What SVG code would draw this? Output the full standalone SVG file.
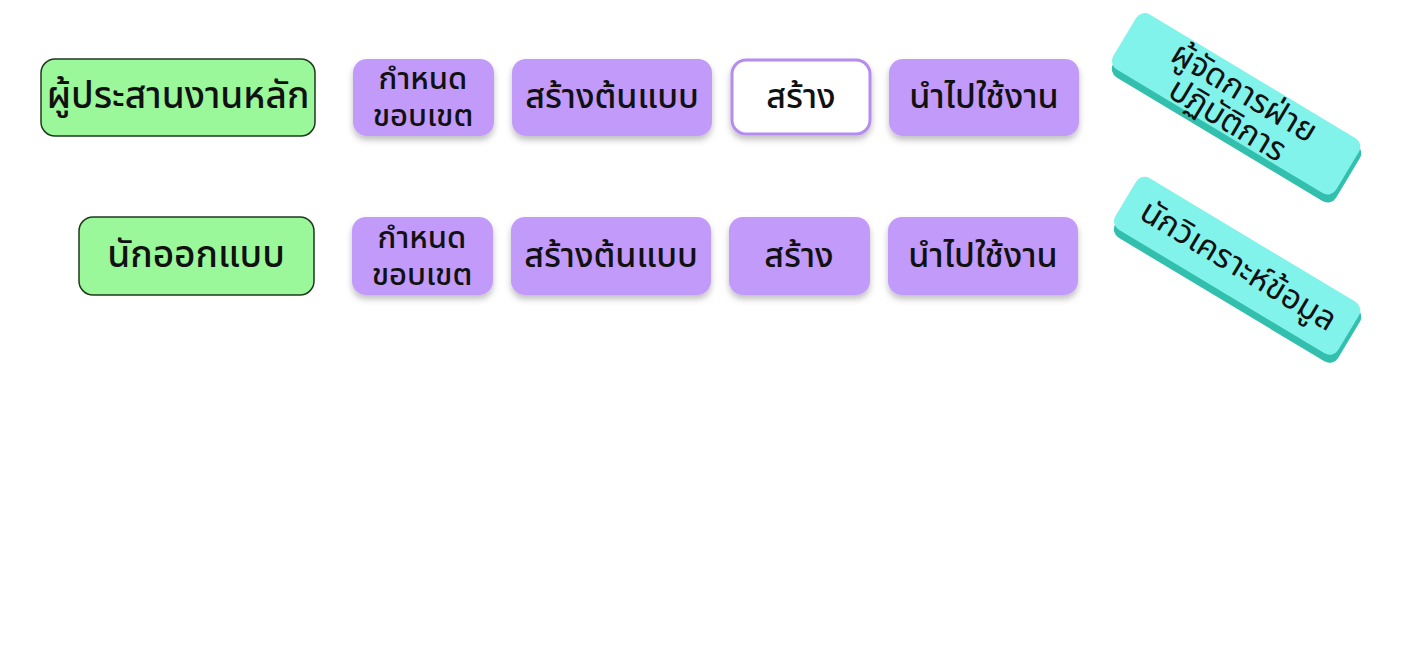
<svg xmlns="http://www.w3.org/2000/svg" width="1409" height="662" viewBox="0 0 1409 662">
<defs>
<style>
text{font-family:"Noto Sans Thai","Noto Sans","DejaVu Sans",sans-serif;fill:#111;text-anchor:middle;dominant-baseline:central;font-weight:500}
.g{fill:#9af79a;stroke:#1d3a1d;stroke-width:1.5}
.p{fill:#c29af9;filter:url(#sh)}
.w{fill:#fff;stroke:#b58cf0;stroke-width:3;filter:url(#sh)}
.c{fill:#82f3ea}
.cd{fill:#33bfae}
.tg{font-size:37px}
.t{font-size:34px}
.t2{font-size:31px}
.tc{font-size:33px;font-weight:400}
</style>
<filter id="sh" x="-20%" y="-20%" width="140%" height="150%">
<feDropShadow dx="0" dy="4" stdDeviation="3" flood-color="#000" flood-opacity="0.25"/>
</filter>
</defs>
<rect width="1409" height="662" fill="#fff"/>
<g id="connectors"/>
<g id="n1"><rect class="g" x="41" y="59" width="274" height="77" rx="14"/><text class="tg" x="178" y="97">ผู้ประสานงานหลัก</text></g>
<g id="n2"><rect class="p" x="353" y="59" width="141" height="77" rx="14"/><text class="t2" x="423" y="79">กำหนด</text><text class="t2" x="423" y="116">ขอบเขต</text></g>
<g id="n3"><rect class="p" x="512" y="59" width="200" height="77" rx="14"/><text class="t" x="612" y="97">สร้างต้นแบบ</text></g>
<g id="n4"><rect class="w" x="732" y="60" width="138" height="74" rx="14"/><text class="t" x="801" y="97">สร้าง</text></g>
<g id="n5"><rect class="p" x="889" y="59" width="190" height="77" rx="14"/><text class="t" x="984" y="97">นำไปใช้งาน</text></g>
<g id="n6"><rect class="g" x="79" y="217" width="235" height="78" rx="14"/><text class="tg" x="196" y="256">นักออกแบบ</text></g>
<g id="n7"><rect class="p" x="352" y="217" width="141" height="78" rx="14"/><text class="t2" x="422" y="238">กำหนด</text><text class="t2" x="422" y="275">ขอบเขต</text></g>
<g id="n8"><rect class="p" x="511" y="217" width="200" height="78" rx="14"/><text class="t" x="611" y="256">สร้างต้นแบบ</text></g>
<g id="n9"><rect class="p" x="729" y="217" width="141" height="78" rx="14"/><text class="t" x="799" y="256">สร้าง</text></g>
<g id="n10"><rect class="p" x="888" y="217" width="190" height="78" rx="14"/><text class="t" x="983" y="256">นำไปใช้งาน</text></g>
<g id="n11" transform="translate(1236 106) rotate(31)">
<rect class="cd" x="-127" y="-29" width="260" height="66" rx="10"/>
<rect class="c" x="-131" y="-34" width="260" height="64" rx="10"/>
<text class="tc" x="0" y="-15">ผู้จัดการฝ่าย</text><text class="tc" x="0" y="17">ปฏิบัติการ</text>
</g>
<g id="n12" transform="translate(1237 268) rotate(31)">
<rect class="cd" x="-127" y="-27" width="260" height="62" rx="10"/>
<rect class="c" x="-131" y="-32" width="260" height="60" rx="10"/>
<text class="tc" x="0" y="-2">นักวิเคราะห์ข้อมูล</text>
</g>
</svg>
